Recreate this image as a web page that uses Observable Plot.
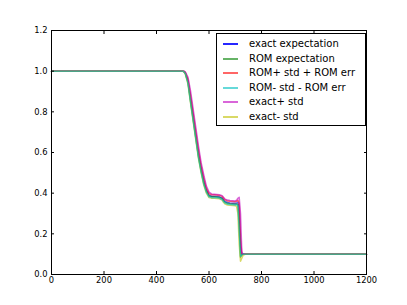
<!DOCTYPE html>
<html><head><meta charset="utf-8">
<script src="https://cdn.jsdelivr.net/npm/d3@7"></script>
<script src="https://cdn.jsdelivr.net/npm/@observablehq/plot@0.6"></script>
<style>
body{margin:0;background:#fff;}
#wrap{position:relative;width:407px;height:305px;font-family:"DejaVu Sans",sans-serif;}
#legend{position:absolute;left:216px;top:33px;width:148px;height:91px;border:1px solid #000;background:#fff;}
.row{position:absolute;left:0;height:14px;font-size:10px;line-height:14px;width:148px;}
.sw{position:absolute;left:6px;width:15px;top:6px;height:2px;}
.lab{position:absolute;left:32px;white-space:nowrap;color:#000;}
</style>
</head><body>
<div id="wrap"></div>
<script>
// x grid (time) shared by all series
const xs = [0, 500, 505, 510, 520, 530, 540, 550, 560, 570, 580, 590, 600, 610, 620, 630, 640, 650, 655, 660, 670, 680, 690, 700, 705, 710, 715, 720, 725, 730, 740, 1200];

const exactExpectation = [1.0, 1.0, 0.998, 0.99, 0.95, 0.86, 0.77, 0.68, 0.59, 0.52, 0.46, 0.415, 0.39, 0.385, 0.385, 0.384, 0.382, 0.376, 0.368, 0.36, 0.354, 0.352, 0.351, 0.35, 0.352, 0.355, 0.33, 0.14, 0.10, 0.10, 0.10, 0.10];
const romExpectation = [1.0, 1.0, 0.997, 0.988, 0.945, 0.85, 0.76, 0.67, 0.58, 0.51, 0.45, 0.41, 0.386, 0.382, 0.382, 0.381, 0.379, 0.373, 0.364, 0.356, 0.35, 0.348, 0.347, 0.346, 0.347, 0.345, 0.25, 0.085, 0.095, 0.10, 0.10, 0.10];
const romPlus = [1.0, 1.0, 0.999, 0.993, 0.96, 0.88, 0.79, 0.70, 0.61, 0.535, 0.475, 0.425, 0.398, 0.392, 0.392, 0.391, 0.389, 0.384, 0.376, 0.368, 0.362, 0.36, 0.359, 0.358, 0.36, 0.365, 0.35, 0.18, 0.10, 0.10, 0.10, 0.10];
const romMinus = [1.0, 1.0, 0.996, 0.987, 0.94, 0.845, 0.755, 0.665, 0.575, 0.505, 0.445, 0.405, 0.382, 0.378, 0.378, 0.377, 0.375, 0.369, 0.36, 0.352, 0.346, 0.344, 0.343, 0.342, 0.343, 0.34, 0.22, 0.09, 0.097, 0.10, 0.10, 0.10];
const exactPlus = [1.0, 1.0, 1.0, 0.996, 0.97, 0.90, 0.81, 0.72, 0.63, 0.55, 0.49, 0.435, 0.405, 0.396, 0.395, 0.394, 0.392, 0.388, 0.38, 0.372, 0.366, 0.364, 0.363, 0.362, 0.365, 0.375, 0.38, 0.30, 0.11, 0.10, 0.10, 0.10];
const exactMinus = [1.0, 1.0, 0.995, 0.985, 0.935, 0.84, 0.75, 0.66, 0.57, 0.50, 0.44, 0.40, 0.378, 0.375, 0.375, 0.374, 0.372, 0.366, 0.355, 0.348, 0.342, 0.34, 0.339, 0.338, 0.335, 0.30, 0.15, 0.065, 0.08, 0.095, 0.10, 0.10];

const names = ["exact expectation", "ROM expectation", "ROM+ std + ROM err", "ROM- std - ROM err", "exact+ std", "exact- std"];
const colors = ["#0000ff", "#008000", "#ff0000", "#00bfbf", "#bf00bf", "#bfbf00"];
const values = [exactExpectation, romExpectation, romPlus, romMinus, exactPlus, exactMinus];
const drawOrder = [0, 1, 2, 4, 5, 3];

const xTicks = [0, 200, 400, 600, 800, 1000, 1200];
const yTicks = [0.0, 0.2, 0.4, 0.6, 0.8, 1.0, 1.2];

const rows = drawOrder.flatMap(k => xs.map((x, i) => ({x, y: values[k][i], name: names[k]})));

const chart = Plot.plot({
  width: 407, height: 305,
  marginLeft: 51, marginRight: 41, marginTop: 30, marginBottom: 31,
  style: {fontFamily: "DejaVu Sans", fontSize: "8.33px", background: "#fff", color: "#000"},
  x: {domain: [0, 1200]},
  y: {domain: [0, 1.2]},
  color: {domain: names, range: colors},
  marks: [
    Plot.line(rows, {x: "x", y: "y", z: "name", stroke: "name", strokeWidth: 1.5, strokeOpacity: 0.6}),
    Plot.frame({stroke: "#000", strokeWidth: 1}),
    Plot.axisX({anchor: "bottom", ticks: xTicks, tickFormat: "d", tickSize: -3, tickPadding: 6, label: null}),
    Plot.axisX({anchor: "top", ticks: xTicks, tickFormat: () => "", tickSize: -3, label: null}),
    Plot.axisY({anchor: "left", ticks: yTicks, tickFormat: d3.format(".1f"), tickSize: -3, tickPadding: 7, label: null}),
    Plot.axisY({anchor: "right", ticks: yTicks, tickFormat: () => "", tickSize: -3, label: null})
  ]
});
const wrap = document.getElementById("wrap");
wrap.appendChild(chart);

const leg = document.createElement("div");
leg.id = "legend";
names.forEach((n, i) => {
  const r = document.createElement("div");
  r.className = "row";
  r.style.top = (3 + i * 14.5) + "px";
  const sw = document.createElement("span");
  sw.className = "sw";
  sw.style.background = colors[i];
  sw.style.opacity = i === 0 ? 0.85 : 0.6;
  const lab = document.createElement("span");
  lab.className = "lab";
  lab.textContent = n;
  r.appendChild(sw); r.appendChild(lab);
  leg.appendChild(r);
});
wrap.appendChild(leg);
</script>
</body></html>
